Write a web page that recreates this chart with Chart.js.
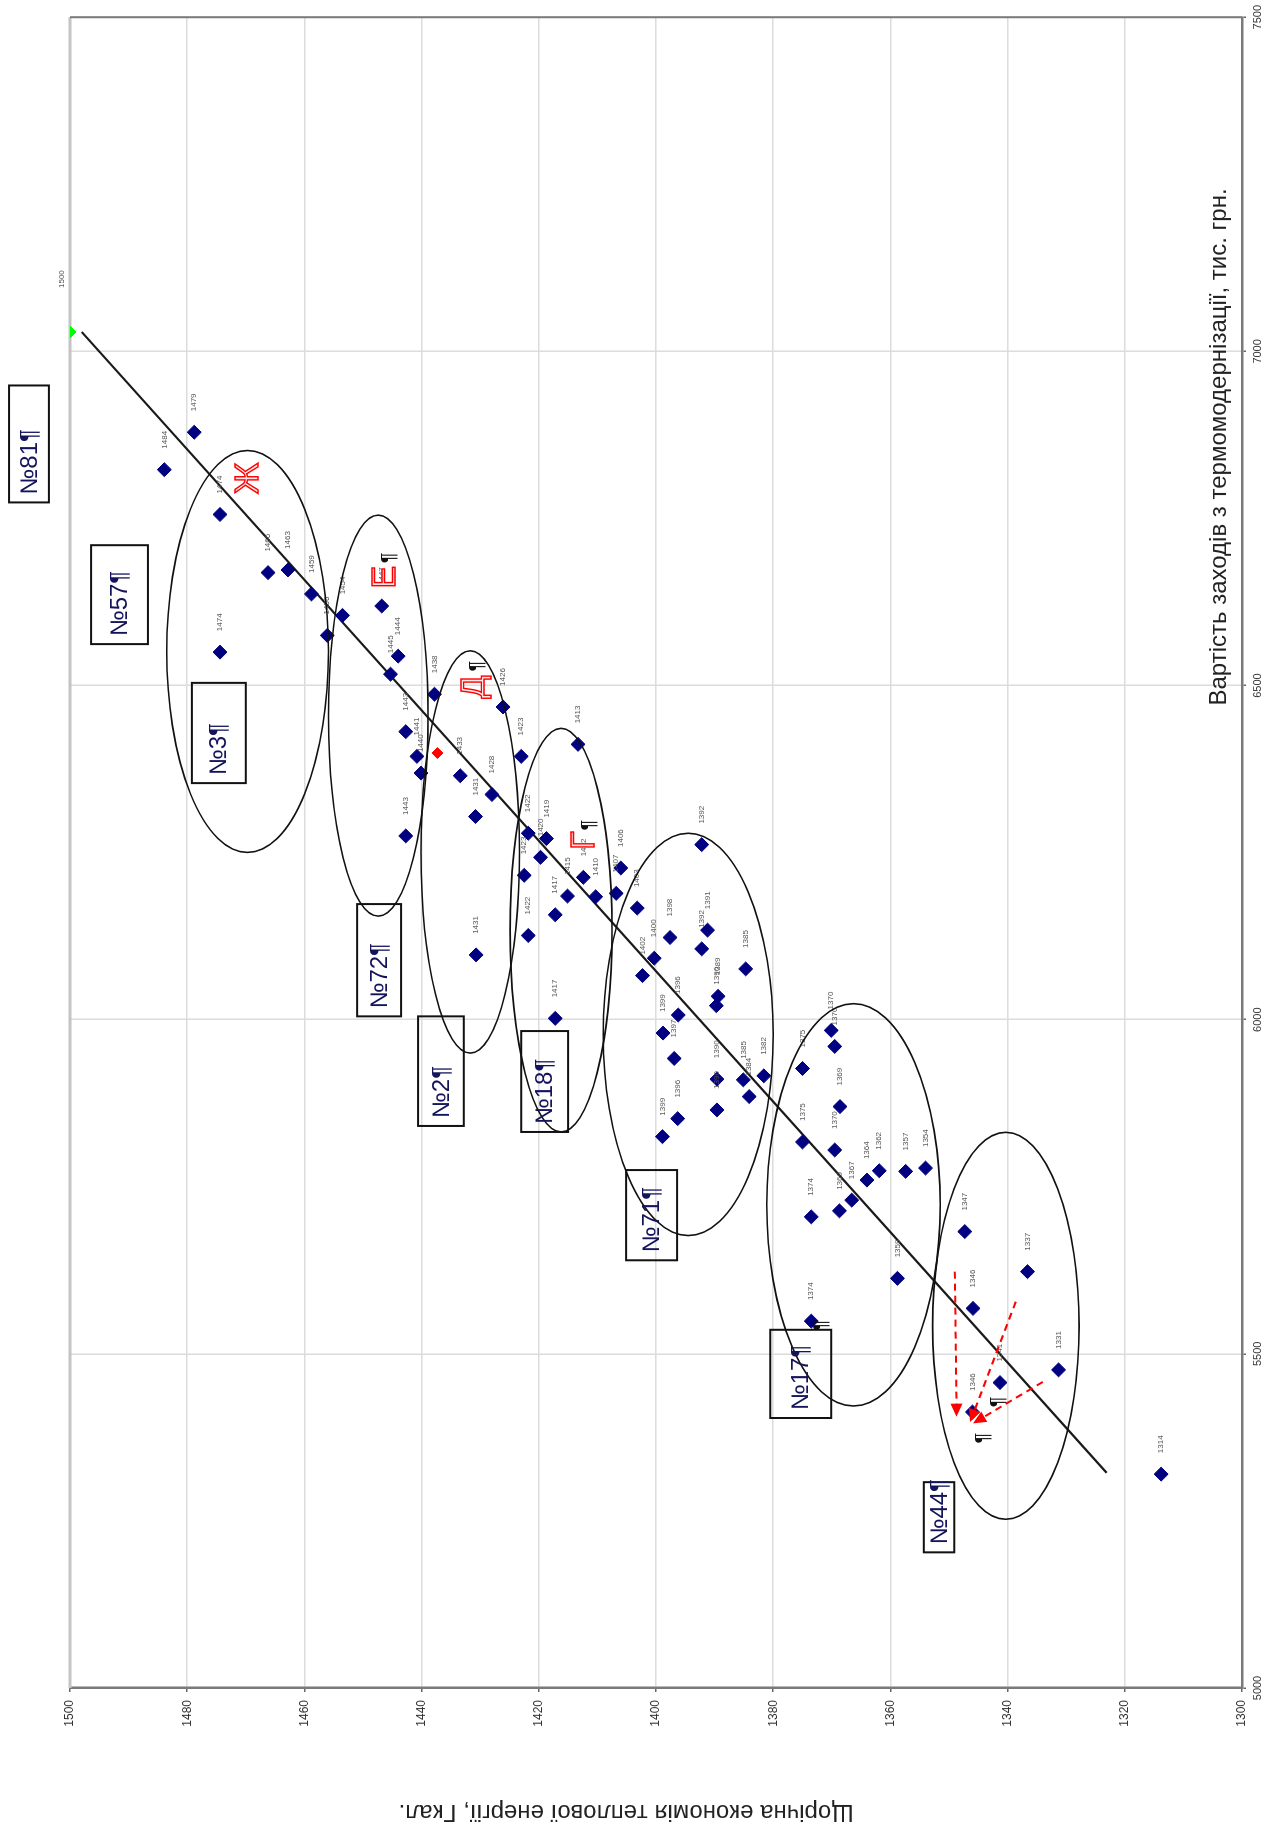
<!DOCTYPE html>
<html lang="uk">
<head>
<meta charset="utf-8">
<title>Вартість заходів з термомодернізації</title>
<script src="https://cdn.jsdelivr.net/npm/chart.js@4.4.1/dist/chart.umd.min.js"></script>
<style>
    html, body { margin: 0; padding: 0; background: #fff; }
    body { width: 1274px; height: 1829px; overflow: hidden; position: relative; }
    /* the chart is drawn upright and then turned a quarter to the left, like the scanned page */
    #chart { position: absolute; left: 0; top: 0; transform-origin: 0 0; transform: translateY(1829px) rotate(-90deg); }
</style>
</head>
<body>
<canvas id="chart" width="1829" height="1274"></canvas>
<script>
/**
 * Cost of thermal modernisation vs. yearly heat saving
 */

// Yearly heat saving, Gcal (one value per building)
const energySaving = [
    1483.9, 1478.8, 1474.4, 1474.4, 1466.2, 1462.8, 1458.8, 1453.5, 1456.1, 1446.8,
    1444.0, 1445.3, 1437.8, 1426.1, 1442.7, 1440.8, 1440.1, 1433.4, 1423.0, 1428.0,
    1430.8, 1442.7, 1421.8, 1418.7, 1419.7, 1422.5, 1430.7, 1413.3, 1406.0, 1412.4,
    1415.1, 1410.3, 1406.8, 1417.2, 1421.8, 1392.2, 1403.2, 1397.6, 1400.3, 1402.3,
    1391.2, 1392.2, 1384.7, 1389.4, 1389.7, 1396.2, 1417.2, 1398.8, 1396.9, 1389.6,
    1385.1, 1381.6, 1384.1, 1389.6, 1396.3, 1398.9, 1370.1, 1369.5, 1375.0, 1368.6,
    1375.0, 1369.5, 1361.9, 1364.0, 1357.4, 1354.0, 1366.6, 1368.7, 1373.5, 1358.8,
    1347.3, 1345.9, 1373.5, 1336.6, 1331.3, 1341.3, 1346.0, 1313.8
];

// Cost of the measures, thousand UAH (same order as energySaving)
const measureCost = [
    6823, 6879, 6756, 6550, 6669, 6673, 6637, 6605, 6575, 6619,
    6544, 6517, 6487, 6468, 6431, 6394, 6369, 6365, 6394, 6337,
    6304, 6275, 6279, 6271, 6243, 6216, 6097, 6412, 6227, 6213,
    6185, 6184, 6189, 6157, 6126, 6262, 6167, 6123, 6092, 6066,
    6134, 6106, 6076, 6035, 6021, 6007, 6002, 5980, 5942, 5911,
    5910, 5916, 5885, 5865, 5852, 5825, 5984, 5960, 5927, 5870,
    5817, 5805, 5774, 5760, 5773, 5778, 5730, 5714, 5705, 5613,
    5683, 5568, 5549, 5623, 5476, 5457, 5413, 5320
];

// Reference building (green) and the highlighted one (red)
const referenceSaving = [1500];
const referenceCost = [7029];
const highlightSaving = [1437.3];
const highlightCost = [6399];

// Trend line end points
const trendSaving = [1498.0, 1323.1];
const trendCost = [7029, 5322];

// Axis ticks
const energyTicks = [1300, 1320, 1340, 1360, 1380, 1400, 1420, 1440, 1460, 1480, 1500];
const costTicks = [5000, 5500, 6000, 6500, 7000, 7500];

// Groups of buildings (ellipse centre and half sizes in data units)
const groupSaving = [1469.7, 1447.4, 1431.7, 1416.2, 1394.5, 1366.3, 1340.3];
const groupCost = [6551, 6455, 6251, 6134, 5978, 5723, 5542];
const groupSavingHalf = [13.8, 8.5, 8.4, 8.7, 14.5, 14.8, 12.5];
const groupCostHalf = [300.7, 300, 301, 302, 301, 301, 289.5];

// Group letters
const letterText = ['Ж', 'Е', 'Д', 'Г'];
const letterSaving = [1469.5, 1446.2, 1430.9, 1412.2];
const letterCost = [6810, 6662, 6498, 6268];

// Building number tags (box corners in data units)
const tagText = ['№81', '№57', '№3', '№72', '№2', '№18', '№71', '№17', '№44'];
const tagSavingFrom = [1510.4, 1496.4, 1479.2, 1451.0, 1440.6, 1423.0, 1405.1, 1380.5, 1354.3];
const tagSavingTo = [1503.6, 1486.7, 1470.0, 1443.5, 1432.8, 1415.0, 1396.4, 1370.1, 1349.1];
const tagCostFrom = [6949, 6710, 6504, 6173, 6005, 5983, 5775, 5536, 5308];
const tagCostTo = [6774, 6562, 6354, 6005, 5841, 5832, 5640, 5404, 5203];

// Stray paragraph marks left on the page
const markSaving = [1445.4, 1430.4, 1411.3, 1371.7, 1341.6, 1344.2];
const markCost = [6691, 6529, 6291, 5543, 5428, 5374];

// Red dashed arrows (start -> end)
const arrowSavingFrom = [1349.0, 1338.6, 1334.0];
const arrowCostFrom = [5623, 5578, 5458];
const arrowSavingTo = [1348.7, 1346.4, 1345.9];
const arrowCostTo = [5406, 5398, 5396];

const FONT = '"Liberation Sans", Arial, sans-serif';

function toPoints(xs, ys) {
    return xs.map((x, i) => ({ x: x, y: ys[i] }));
}

/**
 * Draws everything Excel had as shapes on top of the plot
 */
const overlayPlugin = {
    id: 'overlay',
    beforeDatasetsDraw(chart) {
        const ctx = chart.ctx;
        const area = chart.chartArea;
        ctx.save();
        // outer frame of the plot area
        ctx.strokeStyle = '#c4c4c4';
        ctx.lineWidth = 3;
        ctx.beginPath();
        ctx.moveTo(area.left, area.top);
        ctx.lineTo(area.right, area.top);
        ctx.stroke();
        ctx.strokeStyle = '#7a7a7a';
        ctx.lineWidth = 2;
        ctx.beginPath();
        ctx.moveTo(area.right, area.top);
        ctx.lineTo(area.right, area.bottom);
        ctx.stroke();
        ctx.restore();
    },
    afterDatasetsDraw(chart) {
        const ctx = chart.ctx;
        const area = chart.chartArea;
        const xs = chart.scales.x;
        const ys = chart.scales.y;
        const px = v => xs.getPixelForValue(v);
        const py = v => ys.getPixelForValue(v);

        ctx.save();

        // Point labels (the heat saving value)
        ctx.fillStyle = '#555';
        ctx.font = '8px ' + FONT;
        ctx.textAlign = 'left';
        ctx.textBaseline = 'middle';
        energySaving.forEach((e, i) => {
            ctx.fillText(String(Math.round(e)), px(measureCost[i]) + 21, py(e));
        });
        ctx.fillText(String(Math.round(referenceSaving[0])), px(referenceCost[0]) + 44, py(referenceSaving[0]) - 8);

        // Group ellipses
        ctx.strokeStyle = '#111';
        ctx.lineWidth = 1.6;
        groupSaving.forEach((e, i) => {
            const cx = px(groupCost[i]);
            const cy = py(e);
            const rx = Math.abs(px(groupCost[i] + groupCostHalf[i]) - cx);
            const ry = Math.abs(py(e + groupSavingHalf[i]) - cy);
            ctx.beginPath();
            ctx.ellipse(cx, cy, rx, ry, 0, 0, Math.PI * 2);
            ctx.stroke();
        });

        // Group letters (outlined red)
        ctx.font = '34px ' + FONT;
        ctx.textAlign = 'center';
        ctx.textBaseline = 'middle';
        ctx.lineWidth = 1.4;
        ctx.strokeStyle = '#ff0000';
        ctx.fillStyle = '#ffe6e6';
        letterText.forEach((t, i) => {
            const x = px(letterCost[i]);
            const y = py(letterSaving[i]);
            ctx.fillText(t, x, y);
            ctx.strokeText(t, x, y);
        });

        // Building tags
        ctx.strokeStyle = '#111';
        ctx.lineWidth = 2;
        ctx.fillStyle = '#14145a';
        ctx.font = '24px ' + FONT;
        ctx.textAlign = 'left';
        tagText.forEach((t, i) => {
            const x1 = px(tagCostTo[i]);
            const x2 = px(tagCostFrom[i]);
            const y1 = py(tagSavingFrom[i]);
            const y2 = py(tagSavingTo[i]);
            const left = Math.min(x1, x2);
            const top = Math.min(y1, y2);
            ctx.strokeRect(left, top, Math.abs(x2 - x1), Math.abs(y2 - y1));
            ctx.fillText(t + '¶', left + 8, top + Math.abs(y2 - y1) / 2 + 1);
        });

        // Loose paragraph marks
        ctx.fillStyle = '#111';
        ctx.font = '20px ' + FONT;
        ctx.textAlign = 'center';
        markSaving.forEach((e, i) => {
            ctx.fillText('¶', px(markCost[i]), py(e));
        });

        // Red dashed arrows
        ctx.strokeStyle = '#ff0000';
        ctx.fillStyle = '#ff0000';
        ctx.lineWidth = 2;
        arrowSavingFrom.forEach((e, i) => {
            const x1 = px(arrowCostFrom[i]);
            const y1 = py(e);
            const x2 = px(arrowCostTo[i]);
            const y2 = py(arrowSavingTo[i]);
            const ang = Math.atan2(y2 - y1, x2 - x1);
            const head = 13;
            ctx.setLineDash([7, 5]);
            ctx.beginPath();
            ctx.moveTo(x1, y1);
            ctx.lineTo(x2 - Math.cos(ang) * head * 0.8, y2 - Math.sin(ang) * head * 0.8);
            ctx.stroke();
            ctx.setLineDash([]);
            ctx.beginPath();
            ctx.moveTo(x2, y2);
            ctx.lineTo(x2 - head * Math.cos(ang) + 6 * Math.sin(ang), y2 - head * Math.sin(ang) - 6 * Math.cos(ang));
            ctx.lineTo(x2 - head * Math.cos(ang) - 6 * Math.sin(ang), y2 - head * Math.sin(ang) + 6 * Math.cos(ang));
            ctx.closePath();
            ctx.fill();
        });

        // Axis titles
        ctx.fillStyle = '#222';
        ctx.font = '24px ' + FONT;
        ctx.textAlign = 'center';
        ctx.textBaseline = 'middle';
        ctx.fillText('Вартість заходів з термомодернізації, тис. грн.', px(6857), area.bottom - 23);

        ctx.translate(area.left - 124, py(1405.1));
        ctx.rotate(-Math.PI / 2);
        ctx.font = '24px ' + FONT;
        ctx.fillText('Щорічна економія теплової енергії, Гкал.', 0, 0);

        ctx.restore();
    }
};

function createCostChart() {
    const ctx = document.getElementById('chart').getContext('2d');
    Chart.defaults.font.family = FONT;

    window.costChart = new Chart(ctx, {
        type: 'scatter',
        data: {
            datasets: [{
                label: 'Будинки',
                data: toPoints(measureCost, energySaving),
                pointStyle: 'rectRot',
                pointRadius: 7,
                backgroundColor: '#000080',
                borderColor: '#000080',
                borderWidth: 1
            }, {
                label: 'Еталон',
                data: toPoints(referenceCost, referenceSaving),
                pointStyle: 'rectRot',
                pointRadius: 6,
                backgroundColor: '#00ff00',
                borderColor: '#00ff00',
                borderWidth: 1
            }, {
                label: 'Обраний',
                data: toPoints(highlightCost, highlightSaving),
                pointStyle: 'rectRot',
                pointRadius: 5.5,
                backgroundColor: '#ff0000',
                borderColor: '#ff0000',
                borderWidth: 1
            }, {
                label: 'Тренд',
                data: toPoints(trendCost, trendSaving),
                showLine: true,
                borderColor: '#1a1a1a',
                borderWidth: 2.2,
                pointRadius: 0
            }]
        },
        options: {
            responsive: false,
            animation: false,
            devicePixelRatio: 1,
            layout: {
                padding: { left: 0, right: 17, top: 70, bottom: 0 }
            },
            scales: {
                x: {
                    type: 'linear',
                    position: 'bottom',
                    min: costTicks[0],
                    max: costTicks[costTicks.length - 1],
                    afterBuildTicks: s => { s.ticks = costTicks.map(v => ({ value: v })); },
                    afterFit: s => { s.height = 32; },
                    grid: { color: '#dcdcdc', lineWidth: 1.5, tickLength: 4, tickColor: '#666' },
                    border: { color: '#7a7a7a', width: 2.5 },
                    ticks: { font: { size: 11 }, color: '#333', padding: 5, maxRotation: 0, callback: v => String(v) }
                },
                y: {
                    type: 'linear',
                    position: 'left',
                    min: energyTicks[0],
                    max: energyTicks[energyTicks.length - 1],
                    afterBuildTicks: s => { s.ticks = energyTicks.map(v => ({ value: v })); },
                    afterFit: s => { s.width = 141; },
                    grid: { color: '#dcdcdc', lineWidth: 1.5, tickLength: 4, tickColor: '#666' },
                    border: { color: '#7a7a7a', width: 2.5 },
                    ticks: { font: { size: 12 }, color: '#333', padding: 8, callback: v => String(v) }
                }
            },
            plugins: {
                legend: { display: false },
                tooltip: { enabled: false }
            }
        },
        plugins: [overlayPlugin]
    });
}

createCostChart();
</script>
</body>
</html>
